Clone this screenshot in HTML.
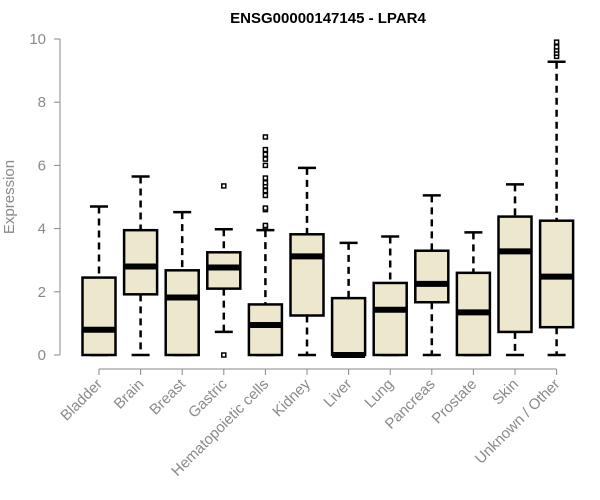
<!DOCTYPE html>
<html><head><meta charset="utf-8"><style>body{margin:0;background:#fff}svg{display:block;font-family:"Liberation Sans",Arial,sans-serif}</style></head>
<body>
<svg id="c" width="600" height="500">
<text x="328" y="23" text-anchor="middle" font-weight="bold" font-size="15">ENSG00000147145 - LPAR4</text>
<text transform="translate(14,197) rotate(-90)" text-anchor="middle" font-size="15" fill="#8a8a8a">Expression</text>
<g id="g"></g>
</svg>
<script>
const categories=["Bladder","Brain","Breast","Gastric","Hematopoietic cells","Kidney","Liver","Lung","Pancreas","Prostate","Skin","Unknown / Other"];
const whiskerLow=[0,0,0,0.73,0,0,0,0,0,0,0,0];
const q1=[0,1.92,0,2.1,0,1.25,0,0,1.67,0,0.73,0.88];
const medians=[0.8,2.8,1.82,2.77,0.95,3.12,0,1.43,2.25,1.35,3.28,2.48];
const q3=[2.45,3.95,2.68,3.25,1.6,3.82,1.8,2.28,3.3,2.6,4.38,4.25];
const whiskerHigh=[4.7,5.65,4.52,3.98,3.95,5.92,3.55,3.75,5.05,3.88,5.4,9.28];
const outliers=[[],[],[],[0,5.35],[4.05,4.1,4.6,4.65,5.05,5.2,5.35,5.45,5.6,6.0,6.2,6.35,6.5,6.9],[],[],[],[],[],[],[9.45,9.55,9.65,9.75,9.9]];
const yTicks=[0,2,4,6,8,10];
const y=v=>355-31.6*v, x=i=>99+41.6*i;
const g=document.getElementById('g'),NS='http://www.w3.org/2000/svg';
function mk(t,a,p){const e=document.createElementNS(NS,t);for(const k in a)e.setAttribute(k,a[k]);(p||g).appendChild(e);return e;}
let ax=mk('line',{x1:60,x2:60,y1:y(0),y2:y(10),stroke:'#888'});


yTicks.forEach(t=>{mk('line',{x1:54,x2:60,y1:y(t),y2:y(t),stroke:'#888'});
const tx=mk('text',{x:46,y:y(t)+5,'text-anchor':'end','font-size':15,fill:'#8a8a8a'});tx.textContent=t;

});
let xa=mk('line',{x1:x(0),x2:x(11),y1:369,y2:369,stroke:'#888'});


categories.forEach((c,i)=>{const cx=x(i),hw=16.5;
mk('line',{x1:cx,x2:cx,y1:369,y2:375,stroke:'#888'});
const b=mk('g',{});


mk('line',{x1:cx,x2:cx,y1:y(whiskerHigh[i]),y2:y(q3[i]),stroke:'#000','stroke-width':2.5,'stroke-dasharray':'7,5'},b);
mk('line',{x1:cx,x2:cx,y1:y(q1[i]),y2:y(whiskerLow[i]),stroke:'#000','stroke-width':2.5,'stroke-dasharray':'7,5'},b);
mk('line',{x1:cx-9,x2:cx+9,y1:y(whiskerHigh[i]),y2:y(whiskerHigh[i]),stroke:'#000','stroke-width':2.5},b);
mk('line',{x1:cx-9,x2:cx+9,y1:y(whiskerLow[i]),y2:y(whiskerLow[i]),stroke:'#000','stroke-width':2.5},b);
mk('rect',{x:cx-hw,y:y(q3[i]),width:2*hw,height:y(q1[i])-y(q3[i]),fill:'#ede7cd',stroke:'#000','stroke-width':2.5},b);
mk('line',{x1:cx-hw,x2:cx+hw,y1:y(medians[i]),y2:y(medians[i]),stroke:'#000','stroke-width':6},b);
outliers[i].forEach(o=>mk('rect',{x:cx-2,y:y(o)-2,width:4,height:4,fill:'#fff',stroke:'#000','stroke-width':1.5},b));
const t=mk('text',{transform:`translate(${cx+4},${385}) rotate(-45)`,'text-anchor':'end','font-size':15,fill:'#8a8a8a'});t.textContent=c;

});
</script>
</body></html>
